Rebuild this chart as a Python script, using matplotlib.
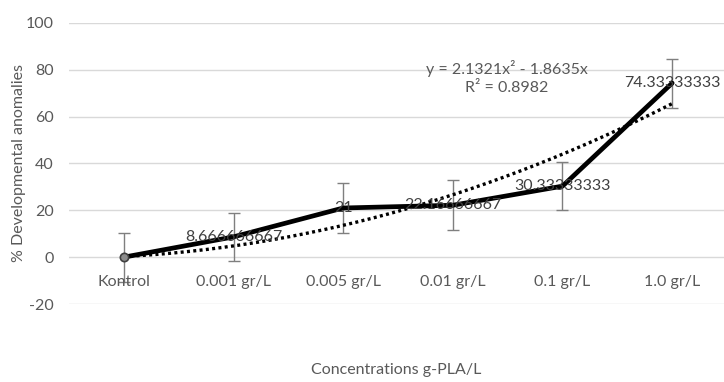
import numpy as np
import matplotlib
matplotlib.use("Agg")
import matplotlib.pyplot as plt

categories = ["Kontrol", "0.001 gr/L", "0.005 gr/L", "0.01 gr/L", "0.1 gr/L", "1.0 gr/L"]
values = [0, 8.666666667, 21, 22.16666667, 30.33333333, 74.33333333]
errors = [10.5, 10.3, 10.5, 10.6, 10.4, 10.5]
point_labels = ["", "8.666666667", "21", "22.16666667", "30.33333333", "74.33333333"]
trend_a, trend_b = 2.1321, -1.8635
eq_text = "y = 2.1321x² - 1.8635x\nR² = 0.8982"

plt.rcParams['font.family'] = ['Lato', 'DejaVu Sans']
plt.rcParams['axes.unicode_minus'] = False
fig = plt.figure(figsize=(7.24, 3.82), dpi=100)
ax = fig.add_axes([69/724, 1-304/382, (727-69)/724, (304-23)/382])

x = np.arange(1, len(values)+1)
ax.set_xlim(0.5, len(values)+0.5)
ax.set_ylim(-20, 100)
ax.set_yticks(np.arange(-20, 101, 20))
ax.grid(axis='y', color='#d9d9d9', linewidth=1)
ax.set_axisbelow(True)
for s in ax.spines.values():
    s.set_visible(False)
ax.tick_params(axis='y', length=0, labelsize=11.5, labelcolor='#595959', pad=11)
ax.set_xticks([])

ax.errorbar(x, values, yerr=errors, fmt='none', ecolor='#7f7f7f', elinewidth=1,
            capsize=4, capthick=1, zorder=2)
ax.plot(x, values, color='black', linewidth=3.4, solid_capstyle='round', zorder=3)
ax.plot(x[:1], values[:1], marker='o', markersize=6, markerfacecolor='#8c8c8c',
        markeredgecolor='#404040', markeredgewidth=1.2, linestyle='none', zorder=4)

xt = np.linspace(1, len(values), 200)
ax.plot(xt, trend_a*xt**2 + trend_b*xt, color='black', linewidth=2.4,
        linestyle=(0, (0.9, 1.0)), zorder=3)

for xi, yi, lab in zip(x, values, point_labels):
    if lab:
        ax.text(xi, yi, lab, ha='center', va='center', fontsize=11.5, color='#404040', zorder=5)

for xi, lab in zip(x, categories):
    ax.annotate(lab, (xi, 0), xytext=(0, -13), textcoords='offset points',
                ha='center', va='top', fontsize=11.5, color='#595959')

ax.text(4.49, 84.3, eq_text, ha='center', va='top', fontsize=11.5, color='#595959',
        linespacing=1.4)

fig.text(19/724, 1-163/382, "% Developmental anomalies", rotation=90, ha='center',
         va='center', fontsize=11.5, color='#595959')
fig.text(396/724, 1-370/382, "Concentrations g-PLA/L", ha='center', va='center',
         fontsize=11.5, color='#595959')

fig.savefig("out.png", dpi=100)
